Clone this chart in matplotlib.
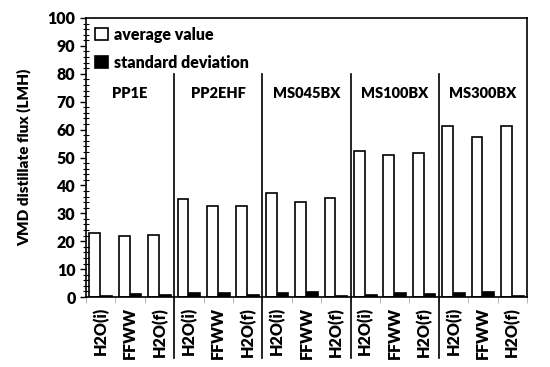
import matplotlib.pyplot as plt
import matplotlib.transforms as mtransforms
from matplotlib.ticker import MultipleLocator
import numpy as np

membranes = ['PP1E', 'PP2EHF', 'MS045BX', 'MS100BX', 'MS300BX']
feeds = ['H2O(i)', 'FFWW', 'H2O(f)']
average_value = [23.0, 22.0, 22.4,
                 35.0, 32.5, 32.7,
                 37.3, 34.2, 35.5,
                 52.5, 51.0, 51.6,
                 61.3, 57.5, 61.3]
standard_deviation = [0.2, 1.1, 0.6,
                      1.3, 1.3, 0.7,
                      1.5, 1.7, 0.4,
                      0.7, 1.3, 1.2,
                      1.5, 1.7, 0.5]

plt.rcParams['font.family'] = ['Lato', 'DejaVu Sans']
plt.rcParams['font.weight'] = 'bold'

fig = plt.figure(figsize=(5.5, 3.67), dpi=100)
ax = fig.add_axes([86/550, 1 - 297/367, 441/550, 279/367])

n = len(average_value)
x = np.arange(n)
w = 0.37
ax.bar(x - 0.2, average_value, w, color='white', edgecolor='black', linewidth=1.2,
       label='average value')
ax.bar(x + 0.2, standard_deviation, w, color='black', edgecolor='black', linewidth=1.2,
       label='standard deviation')

ax.set_xlim(-0.5, n - 0.5)
ax.set_ylim(0, 100)
ax.yaxis.set_major_locator(MultipleLocator(10))
ax.yaxis.set_minor_locator(MultipleLocator(2))
ax.tick_params(axis='y', which='major', direction='out', length=4, width=1)
ax.tick_params(axis='y', which='minor', direction='inout', length=4, width=0.8)
for lab in ax.get_yticklabels():
    lab.set_fontweight('heavy')
    lab.set_fontsize(11.5)

ax.set_xticks(x)
ax.set_xticklabels(feeds * len(membranes), rotation=90, fontsize=11.5, fontweight='heavy')
ax.tick_params(axis='x', which='major', length=0, pad=7)
ax.set_xticks(np.arange(-0.5, n, 1), minor=True)
ax.tick_params(axis='x', which='minor', length=4, color='#aaaaaa', direction='out')

for s in ax.spines.values():
    s.set_linewidth(1.2)

ax.set_ylabel('VMD distillate flux (LMH)', fontsize=11, fontweight='heavy', labelpad=12)

trans = mtransforms.blended_transform_factory(ax.transData, ax.transAxes)
for g in range(1, len(membranes)):
    xs = g * 3 - 0.5
    ax.plot([xs, xs], [0.8, -0.22], color='black', linewidth=1.2,
            transform=trans, clip_on=False)
for g, name in enumerate(membranes):
    ax.text(g * 3 + 1, 73, name, ha='center', va='center', fontsize=10.5,
            fontweight='heavy')

ax.legend(loc='upper left', frameon=False, handlelength=0.8,
          handleheight=0.8, handletextpad=0.4, labelspacing=0.75,
          borderaxespad=0.15, prop={'size': 11.5, 'weight': 'heavy'})

fig.savefig('out.png', dpi=100)
